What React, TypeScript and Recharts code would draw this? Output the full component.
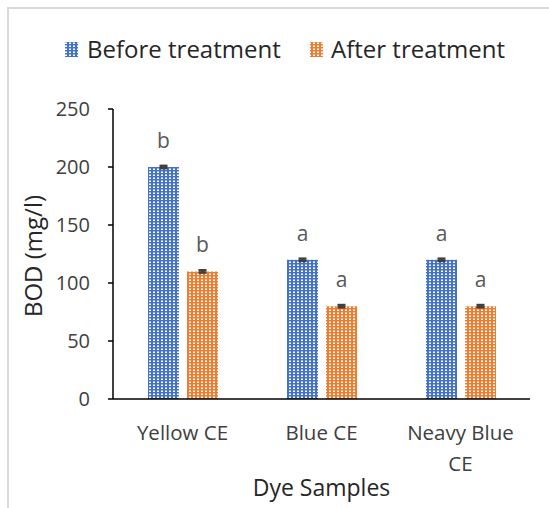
import React from 'react';
import { BarChart, Bar, XAxis, YAxis, ErrorBar, LabelList, Label } from 'recharts';

const categories = ['Yellow CE', 'Blue CE', 'Neavy Blue CE'];
const beforeValues = [200, 120, 120];
const afterValues = [110, 80, 80];
const beforeErrors = [1, 1, 1];
const afterErrors = [1, 1, 1];
const beforeLetters = ['b', 'a', 'a'];
const afterLetters = ['b', 'a', 'a'];
const yTicks = [0, 50, 100, 150, 200, 250];
const seriesNames = ['Before treatment', 'After treatment'];

const data = categories.map((c, i) => ({
  name: c,
  before: beforeValues[i],
  after: afterValues[i],
  beforeErr: beforeErrors[i],
  afterErr: afterErrors[i],
  beforeLetter: beforeLetters[i],
  afterLetter: afterLetters[i],
}));

const FONT = '"Open Sans", sans-serif';
const BLUE = '#4472C4';
const ORANGE = '#ED7D31';

const splitLabel = (s: string): string[] => {
  if (s.length <= 10) return [s];
  const words = s.split(' ');
  return [words.slice(0, -1).join(' '), words[words.length - 1]];
};

const XTick = (props: any) => {
  const { x, y, payload } = props;
  const lines = splitLabel(String(payload.value));
  return (
    <g>
      {lines.map((l, i) => (
        <text
          key={i}
          x={x}
          y={y + 33 + i * 31}
          textAnchor="middle"
          fontFamily={FONT}
          fontSize={20.5}
          fill="#404040"
        >
          {l}
        </text>
      ))}
    </g>
  );
};

const PatternDefs = ({ prefix }: { prefix: string }) => (
  <defs>
    <pattern id={`${prefix}Blue`} width="4" height="3" patternUnits="userSpaceOnUse">
      <rect width="4" height="3" fill={BLUE} />
      <rect x="1" y="0.5" width="2" height="1.5" fill="#ffffff" />
    </pattern>
    <pattern id={`${prefix}Orange`} width="4" height="3" patternUnits="userSpaceOnUse">
      <rect width="4" height="3" fill={ORANGE} />
      <rect x="1" y="0.5" width="2" height="1.5" fill="#ffffff" />
    </pattern>
  </defs>
);

export default function App() {
  return (
    <div style={{ position: 'absolute', left: 0, top: 0, width: 549, height: 508, background: '#fff' }}>
      <div
        style={{
          position: 'absolute',
          left: 7,
          top: 7,
          width: 542,
          height: 501,
          borderLeft: '2px solid #d9d9d9',
          borderTop: '2px solid #d9d9d9',
        }}
      />
      {/* Legend */}
      <svg width={549} height={80} style={{ position: 'absolute', left: 0, top: 0 }}>
        <PatternDefs prefix="lg" />
        <rect x={65} y={42} width={13} height={15} fill="url(#lgBlue)" />
        <text x={87} y={57.5} fontFamily={FONT} fontSize={24} fill="#262626">
          {seriesNames[0]}
        </text>
        <rect x={310} y={42} width={13} height={15} fill="url(#lgOrange)" />
        <text x={331} y={57.5} fontFamily={FONT} fontSize={24} fill="#262626">
          {seriesNames[1]}
        </text>
      </svg>
      <div style={{ position: 'absolute', left: 0, top: 0 }}>
        <BarChart
          width={549}
          height={508}
          data={data}
          margin={{ top: 109, right: 19, left: 0, bottom: 0 }}
          barSize={31}
          barGap={8}
        >
          <PatternDefs prefix="ch" />
          <XAxis
            dataKey="name"
            height={109}
            tickLine={false}
            axisLine={{ stroke: '#000', strokeWidth: 1.5 }}
            tick={<XTick />}
            interval={0}
          >
            <Label
              content={(p: any) => {
                const vb = p.viewBox;
                return (
                  <text
                    x={vb.x + vb.width / 2}
                    y={496}
                    textAnchor="middle"
                    fontFamily={FONT}
                    fontSize={23}
                    fill="#262626"
                  >
                    Dye Samples
                  </text>
                );
              }}
            />
          </XAxis>
          <YAxis
            width={113}
            domain={[0, 250]}
            ticks={yTicks}
            interval={0}
            tickSize={5}
            tickMargin={18}
            axisLine={{ stroke: '#000', strokeWidth: 1.5 }}
            tickLine={{ stroke: '#000', strokeWidth: 1.5 }}
            tick={{ fontFamily: FONT, fontSize: 20, fill: '#404040' }}
          >
            <Label
              content={(p: any) => {
                const vb = p.viewBox;
                const cy = vb.y + vb.height / 2 + 2;
                return (
                  <text
                    x={32}
                    y={cy}
                    transform={`rotate(-90, 32, ${cy})`}
                    textAnchor="middle"
                    dominantBaseline="central"
                    fontFamily={FONT}
                    fontSize={24}
                    fill="#262626"
                  >
                    BOD (mg/l)
                  </text>
                );
              }}
            />
          </YAxis>
          <Bar dataKey="before" name={seriesNames[0]} fill="url(#chBlue)" isAnimationActive={false}>
            <ErrorBar dataKey="beforeErr" width={4} stroke="#404040" strokeWidth={2.5} direction="y" />
            <LabelList
              dataKey="beforeLetter"
              position="top"
              offset={19}
              style={{ fontFamily: FONT, fontSize: 21, fill: '#595959' }}
            />
          </Bar>
          <Bar dataKey="after" name={seriesNames[1]} fill="url(#chOrange)" isAnimationActive={false}>
            <ErrorBar dataKey="afterErr" width={4} stroke="#404040" strokeWidth={2.5} direction="y" />
            <LabelList
              dataKey="afterLetter"
              position="top"
              offset={19}
              style={{ fontFamily: FONT, fontSize: 21, fill: '#595959' }}
            />
          </Bar>
        </BarChart>
      </div>
    </div>
  );
}
